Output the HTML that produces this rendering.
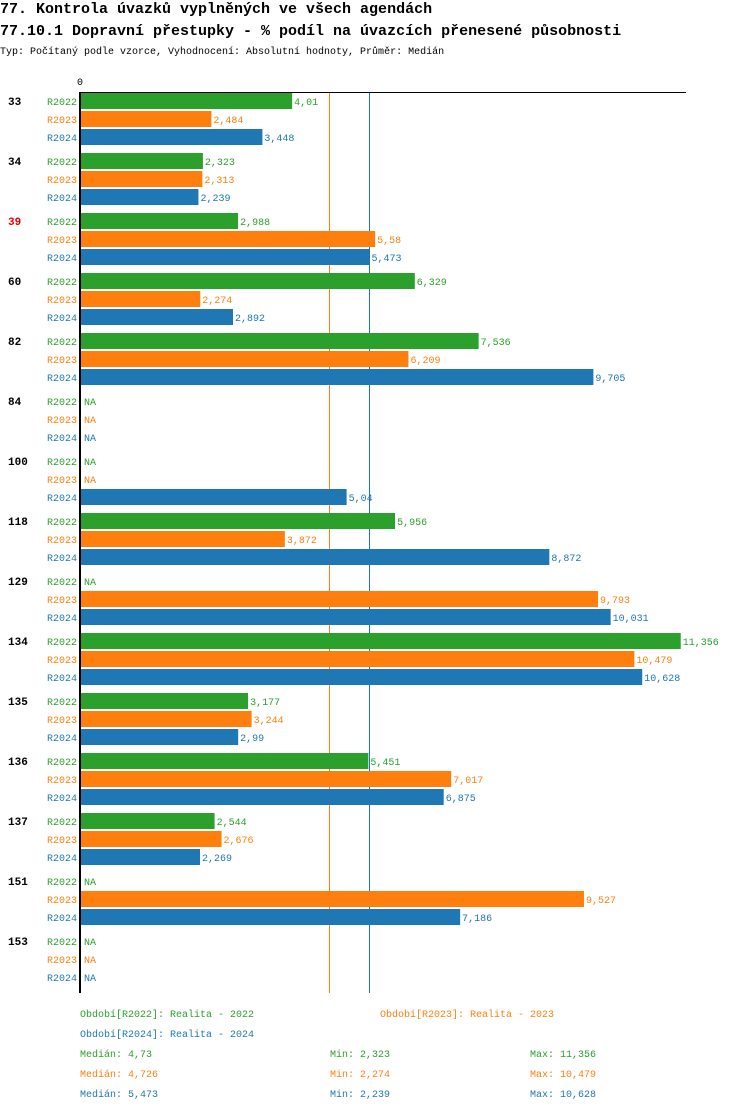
<!DOCTYPE html>
<html><head><meta charset="utf-8"><style>
body{margin:0;background:#fff;width:750px;height:1112px;overflow:hidden;font-family:"Liberation Mono",monospace;}
svg text{font-family:"Liberation Mono",monospace;}
</style></head><body>
<svg id="chart" width="750" height="1112">
<text x="0" y="13" font-size="15" font-weight="bold" fill="#000">77. Kontrola úvazků vyplněných ve všech agendách</text>
<text x="0" y="35" font-size="15" font-weight="bold" fill="#000">77.10.1 Dopravní přestupky - % podíl na úvazcích přenesené působnosti</text>
<text x="0" y="54" font-size="10" fill="#000">Typ: Počítaný podle vzorce, Vyhodnocení: Absolutní hodnoty, Průměr: Medián</text>
<text x="80" y="85" font-size="10" text-anchor="middle" fill="#000">0</text>
<g id="bars"></g>
<g id="legend"></g>
</svg>
<script>
const categories=["33","34","39","60","82","84","100","118","129","134","135","136","137","151","153"];
const series=["R2022","R2023","R2024"];
const v2022=[4.01,2.323,2.988,6.329,7.536,null,null,5.956,null,11.356,3.177,5.451,2.544,null,null];
const v2023=[2.484,2.313,5.58,2.274,6.209,null,null,3.872,9.793,10.479,3.244,7.017,2.676,9.527,null];
const v2024=[3.448,2.239,5.473,2.892,9.705,null,5.04,8.872,10.031,10.628,2.99,6.875,2.269,7.186,null];
const medians=[4.73,4.726,5.473];
const mins=[2.323,2.274,2.239];
const maxs=[11.356,10.479,10.628];
const highlighted=["39"];
const colors=["#2ca02c","#ff7f0e","#1f77b4"];
const vals=[v2022,v2023,v2024];
const NS="http://www.w3.org/2000/svg";
const x0=80, scale=52.9;
const xs=v=>x0+v*scale;
const groupY=i=>92+i*60;
const fmt=v=>String(v).replace('.',',');
const g=document.getElementById('bars');
function mk(tag,attrs,parent,text){const e=document.createElementNS(NS,tag);for(const k in attrs)e.setAttribute(k,attrs[k]);if(text!==undefined)e.textContent=text;parent.appendChild(e);return e;}
[1,2].forEach(s=>{
 const l=mk('line',{x1:Math.round(xs(medians[s]))-0.5,x2:Math.round(xs(medians[s]))-0.5,y1:92,y2:993,stroke:colors[s],'stroke-width':1},g);
 
 
});
categories.forEach((c,i)=>{
 const gy=groupY(i);
 const t=mk('text',{x:8,y:gy+13,'font-size':11,'font-weight':'bold',fill:highlighted.includes(c)?'#e00':'#000'},g,c);
 
 
 series.forEach((s,k)=>{
  const y=gy+1+k*18;
  const lt=mk('text',{x:77,y:y+12,'font-size':10,'text-anchor':'end',fill:colors[k]},g,s);
  
  
  const v=vals[k][i];
  if(v==null){
   const na=mk('text',{x:84,y:y+12,'font-size':10,fill:colors[k]},g,'NA');
   
   
  }else{
   const r=mk('rect',{x:x0+1,y:y,width:xs(v)-x0-1,height:16,fill:colors[k]},g);
   
   
   const vt=mk('text',{x:xs(v)+2,y:y+12,'font-size':10,fill:colors[k]},g,fmt(v));
   
   
  }
 });
});
const ax=mk('line',{x1:80,x2:80,y1:92,y2:993,stroke:'#000','stroke-width':2},g);


const tx=mk('line',{x1:79,x2:686,y1:92.5,y2:92.5,stroke:'#000','stroke-width':1},g);


const lg=document.getElementById('legend');
const lgItems=[[80,1017,0,'Období[R2022]: Realita - 2022'],[380,1017,1,'Období[R2023]: Realita - 2023'],[80,1037,2,'Období[R2024]: Realita - 2024']];
lgItems.forEach(it=>{
 const t=mk('text',{x:it[0],y:it[1],'font-size':10,fill:colors[it[2]]},lg,it[3]);
 
 
});
series.forEach((s,k)=>{
 const y=1057+k*20;
 const a=mk('text',{x:80,y:y,'font-size':10,fill:colors[k]},lg,'Medián: '+fmt(medians[k]));
 
 
 const b=mk('text',{x:330,y:y,'font-size':10,fill:colors[k]},lg,'Min: '+fmt(mins[k]));
 
 
 const m=mk('text',{x:530,y:y,'font-size':10,fill:colors[k]},lg,'Max: '+fmt(maxs[k]));
 
 
});
</script>
</body></html>
